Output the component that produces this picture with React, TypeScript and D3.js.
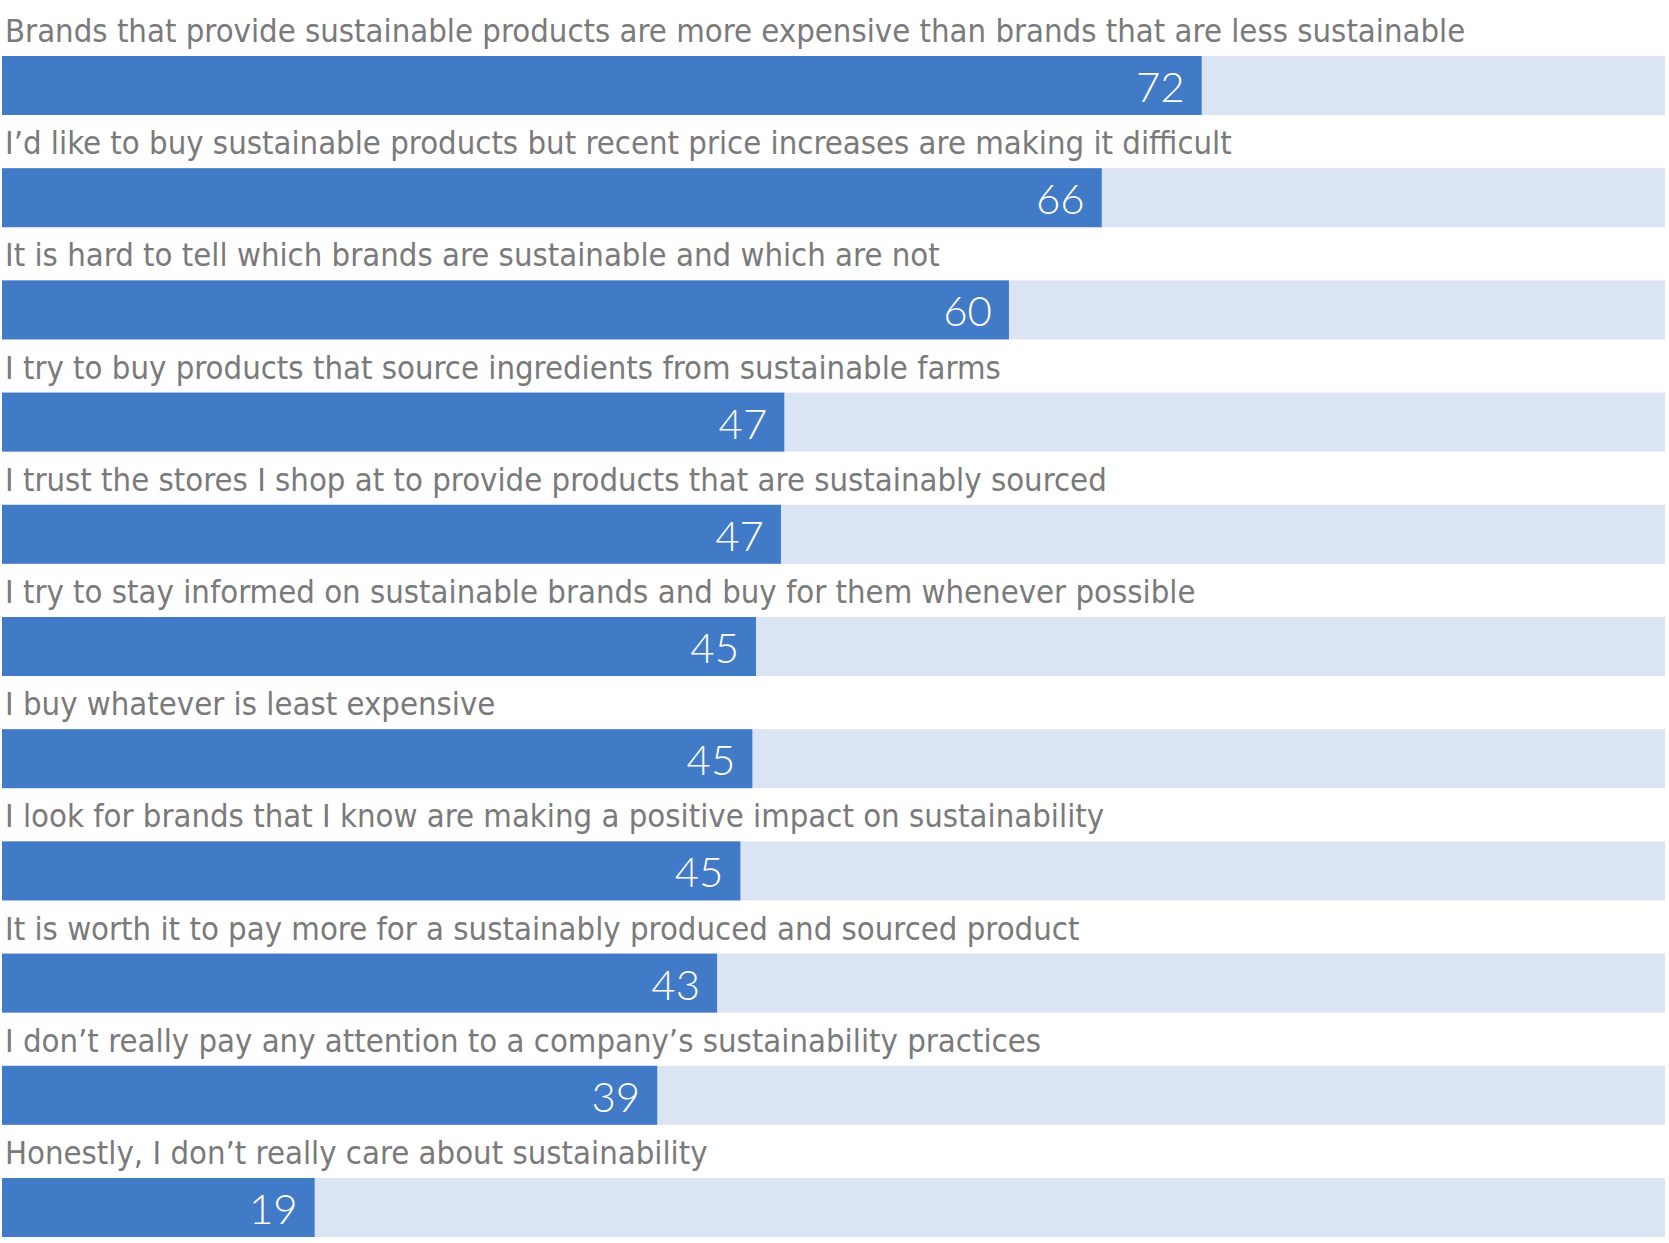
import React from "react";
import * as d3 from "d3";

const statements = [
  "Brands that provide sustainable products are more expensive than brands that are less sustainable",
  "I’d like to buy sustainable products but recent price increases are making it difficult",
  "It is hard to tell which brands are sustainable and which are not",
  "I try to buy products that source ingredients from sustainable farms",
  "I trust the stores I shop at to provide products that are sustainably sourced",
  "I try to stay informed on sustainable brands and buy for them whenever possible",
  "I buy whatever is least expensive",
  "I look for brands that I know are making a positive impact on sustainability",
  "It is worth it to pay more for a sustainably produced and sourced product",
  "I don’t really pay any attention to a company’s sustainability practices",
  "Honestly, I don’t really care about sustainability",
];

const values = [72.14, 66.13, 60.55, 47.04, 46.84, 45.34, 45.12, 44.4, 43.0, 39.4, 18.8];
const valueLabels = ["72", "66", "60", "47", "47", "45", "45", "45", "43", "39", "19"];

const WIDTH = 1669;
const HEIGHT = 1243;
const LEFT = 2;
const RIGHT = 1665;
const TOP = 56;
const ROW = 112.2;
const BAR_H = 59;

export default function App() {
  const x = d3.scaleLinear().domain([0, 100]).range([LEFT, RIGHT]);
  const rows = statements.map((s, i) => ({ s, v: values[i], label: valueLabels[i], i }));
  return (
    <div style={{ position: "absolute", left: 0, top: 0 }}>
      <svg width={WIDTH} height={HEIGHT} style={{ display: "block", background: "#fff" }}>
        {rows.map((r) => {
          const y = TOP + r.i * ROW;
          return (
            <g key={r.i}>
              <text
                x={5}
                y={y - 14}
                fill="#7a7a7a"
                style={{ fontFamily: "'Liberation Sans Narrow', 'DejaVu Sans Condensed', 'Roboto Condensed', sans-serif", fontSize: 32.6 }}
              >
                {r.s}
              </text>
              <rect x={x(0)} y={y} width={x(100) - x(0)} height={BAR_H} fill="#DAE4F3" />
              <rect x={x(0)} y={y} width={x(r.v) - x(0)} height={BAR_H} fill="#417AC6" />
              <text
                x={x(r.v) - 17}
                y={y + 46}
                textAnchor="end"
                fill="#ffffff"
                style={{ fontFamily: "Lato, 'Open Sans', sans-serif", fontWeight: 300, fontSize: 42 }}
              >
                {r.label}
              </text>
            </g>
          );
        })}
      </svg>
    </div>
  );
}
